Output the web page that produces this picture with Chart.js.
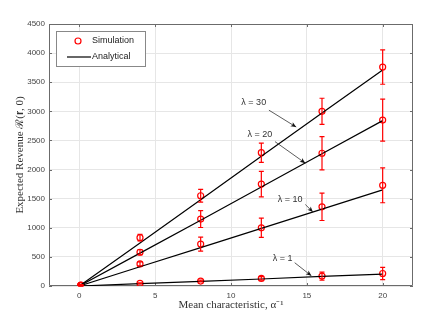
<!DOCTYPE html>
<html>
<head>
<meta charset="utf-8">
<script src="https://cdn.jsdelivr.net/npm/chart.js@4.4.1/dist/chart.umd.min.js"></script>
<style>
  html, body { margin: 0; padding: 0; background: #fff; }
  #wrap { width: 429px; height: 322px; }
</style>
</head>
<body>
<div id="wrap"><canvas id="chart" width="429" height="322"></canvas></div>
<script>
// data
const simX = [0.1, 4, 8, 12, 16, 20];
const sim30 = [15, 830, 1550, 2290, 3000, 3760];
const err30 = [10, 55, 110, 165, 225, 295];
const sim20 = [12, 580, 1150, 1750, 2280, 2850];
const err20 = [10, 45, 145, 220, 285, 360];
const sim10 = [10, 380, 720, 1000, 1360, 1730];
const err10 = [8, 35, 120, 165, 235, 300];
const sim1 = [5, 45, 85, 130, 170, 215];
const err1 = [5, 10, 15, 30, 70, 105];

const anaX = [0, 4, 8, 12, 16, 20];
const ana30 = [0, 740, 1480, 2230, 2970, 3710];
const ana20 = [0, 565, 1130, 1700, 2270, 2840];
const ana10 = [0, 330, 660, 990, 1320, 1650];
const ana1 = [0, 40, 80, 120, 165, 205];

const xTicks = [0, 5, 10, 15, 20];
const yTicks = [0, 500, 1000, 1500, 2000, 2500, 3000, 3500, 4000, 4500];

// annotation labels: text position and arrow tip, in data units
const labels = [
  { text: "\u03bb = 30", tx: 11.5, ty: 3150, fx: 12.5, fy: 3020, ax: 14.3, ay: 2730 },
  { text: "\u03bb = 20", tx: 11.9, ty: 2600, fx: 12.9, fy: 2480, ax: 14.9, ay: 2110 },
  { text: "\u03bb = 10", tx: 13.9, ty: 1480, fx: 14.9, fy: 1400, ax: 15.4, ay: 1270 },
  { text: "\u03bb = 1", tx: 13.4, ty: 480, fx: 14.2, fy: 400, ax: 15.3, ay: 175 }
];

const pts = (xs, ys) => xs.map((x, i) => ({ x: x, y: ys[i] }));
const sims = [[sim30, err30], [sim20, err20], [sim10, err10], [sim1, err1]];
const anas = [ana30, ana20, ana10, ana1];

const red = "#ff0000";
const datasets = [];
anas.forEach(a => datasets.push({
  type: "line",
  data: pts(anaX, a),
  borderColor: "#000",
  borderWidth: 1.2,
  pointRadius: 0,
  fill: false,
  tension: 0
}));
sims.forEach(s => datasets.push({
  type: "scatter",
  data: pts(simX, s[0]),
  errs: s[1],
  borderColor: red,
  backgroundColor: "rgba(0,0,0,0)",
  borderWidth: 1.2,
  pointRadius: 3,
  pointHoverRadius: 3
}));

// error bars, box, ticks, legend, annotations
const extras = {
  id: "extras",
  beforeDatasetsDraw(chart) {
    const ctx = chart.ctx, ca = chart.chartArea;
    const xs = chart.scales.x, ys = chart.scales.y;
    ctx.save();
    ctx.strokeStyle = "#6b6b6b";
    ctx.lineWidth = 1;
    ctx.beginPath();
    ctx.rect(ca.left + 0.5, ca.top + 0.5, ca.right - ca.left - 1, ca.bottom - ca.top - 1);
    ctx.stroke();
    ctx.beginPath();
    xTicks.forEach(v => {
      const px = Math.round(xs.getPixelForValue(v)) + 0.5;
      ctx.moveTo(px, ca.bottom); ctx.lineTo(px, ca.bottom - 3);
      ctx.moveTo(px, ca.top); ctx.lineTo(px, ca.top + 3);
    });
    yTicks.forEach(v => {
      const py = Math.round(ys.getPixelForValue(v)) + 0.5;
      ctx.moveTo(ca.left, py); ctx.lineTo(ca.left + 3, py);
      ctx.moveTo(ca.right, py); ctx.lineTo(ca.right - 3, py);
    });
    ctx.stroke();
    ctx.restore();
  },
  afterDatasetsDraw(chart) {
    const ctx = chart.ctx, ca = chart.chartArea;
    const xs = chart.scales.x, ys = chart.scales.y;
    ctx.save();
    ctx.strokeStyle = red;
    ctx.lineWidth = 1.2;
    chart.data.datasets.forEach(ds => {
      if (!ds.errs) return;
      ds.data.forEach((p, i) => {
        const e = ds.errs[i];
        const px = xs.getPixelForValue(p.x);
        const top = ys.getPixelForValue(p.y + e);
        const bot = ys.getPixelForValue(p.y - e);
        ctx.beginPath();
        ctx.moveTo(px, top); ctx.lineTo(px, bot);
        ctx.moveTo(px - 2.5, top); ctx.lineTo(px + 2.5, top);
        ctx.moveTo(px - 2.5, bot); ctx.lineTo(px + 2.5, bot);
        ctx.stroke();
      });
    });

    // annotations
    ctx.font = "9px 'Liberation Sans', Arial, sans-serif";
    ctx.fillStyle = "#333";
    ctx.textAlign = "center";
    ctx.textBaseline = "middle";
    labels.forEach(l => {
      ctx.fillText(l.text, xs.getPixelForValue(l.tx), ys.getPixelForValue(l.ty));
      const x0 = xs.getPixelForValue(l.fx), y0 = ys.getPixelForValue(l.fy);
      const x1 = xs.getPixelForValue(l.ax), y1 = ys.getPixelForValue(l.ay);
      const ang = Math.atan2(y1 - y0, x1 - x0);
      ctx.strokeStyle = "#333";
      ctx.lineWidth = 0.8;
      ctx.beginPath();
      ctx.moveTo(x0, y0); ctx.lineTo(x1, y1);
      ctx.stroke();
      ctx.fillStyle = "#111";
      ctx.beginPath();
      ctx.moveTo(x1, y1);
      ctx.lineTo(x1 - 6 * Math.cos(ang - 0.4), y1 - 6 * Math.sin(ang - 0.4));
      ctx.lineTo(x1 - 4 * Math.cos(ang), y1 - 4 * Math.sin(ang));
      ctx.lineTo(x1 - 6 * Math.cos(ang + 0.4), y1 - 6 * Math.sin(ang + 0.4));
      ctx.closePath();
      ctx.fill();
      ctx.fillStyle = "#333";
    });

    // legend
    const lx = ca.left + 7, ly = ca.top + 7;
    ctx.fillStyle = "#fff";
    ctx.fillRect(lx, ly, 89, 35);
    ctx.strokeStyle = "#888";
    ctx.lineWidth = 1;
    ctx.strokeRect(lx + 0.5, ly + 0.5, 89, 35);
    ctx.strokeStyle = red;
    ctx.lineWidth = 1.2;
    ctx.beginPath();
    ctx.arc(lx + 22, ly + 10, 3, 0, Math.PI * 2);
    ctx.stroke();
    ctx.strokeStyle = "#000";
    ctx.beginPath();
    ctx.moveTo(lx + 11, ly + 26); ctx.lineTo(lx + 35, ly + 26);
    ctx.stroke();
    ctx.fillStyle = "#222";
    ctx.font = "9px 'Liberation Sans', Arial, sans-serif";
    ctx.textAlign = "left";
    ctx.fillText("Simulation", lx + 36, ly + 10);
    ctx.fillText("Analytical", lx + 36, ly + 26);

    // axis titles
    ctx.fillStyle = "#333";
    ctx.font = "11px 'Liberation Serif', 'Times New Roman', serif";
    ctx.textAlign = "center";
    ctx.fillText("Mean characteristic, \u03b1\u207b\u00b9", (ca.left + ca.right) / 2, 305);
    ctx.translate(20, (ca.top + ca.bottom) / 2);
    ctx.rotate(-Math.PI / 2);
    ctx.fillText("Expected Revenue \u211b(\ud835\udc2b, 0)", 0, 0);
    ctx.restore();
  }
};

const tickFont = { size: 8, family: "'Liberation Sans', Arial, sans-serif" };

new Chart(document.getElementById("chart"), {
  type: "scatter",
  data: { datasets: datasets },
  options: {
    responsive: false,
    animation: false,
    layout: { padding: { top: 24, right: 16, left: 0, bottom: 0 } },
    plugins: { legend: { display: false }, tooltip: { enabled: false } },
    scales: {
      x: {
        type: "linear",
        min: -2,
        max: 22,
        afterBuildTicks: s => { s.ticks = xTicks.map(v => ({ value: v })); },
        afterFit: s => { s.height = 36; },
        grid: { color: "#e6e6e6", drawTicks: false },
        border: { display: false },
        ticks: { padding: 5, color: "#444", font: tickFont, maxRotation: 0, callback: v => String(v) }
      },
      y: {
        type: "linear",
        min: 0,
        max: 4500,
        afterBuildTicks: s => { s.ticks = yTicks.map(v => ({ value: v })); },
        afterFit: s => { s.width = 49; },
        grid: { color: "#e6e6e6", drawTicks: false },
        border: { display: false },
        ticks: { padding: 4, color: "#444", font: tickFont, callback: v => String(v) }
      }
    }
  },
  plugins: [extras]
});
</script>
</body>
</html>
